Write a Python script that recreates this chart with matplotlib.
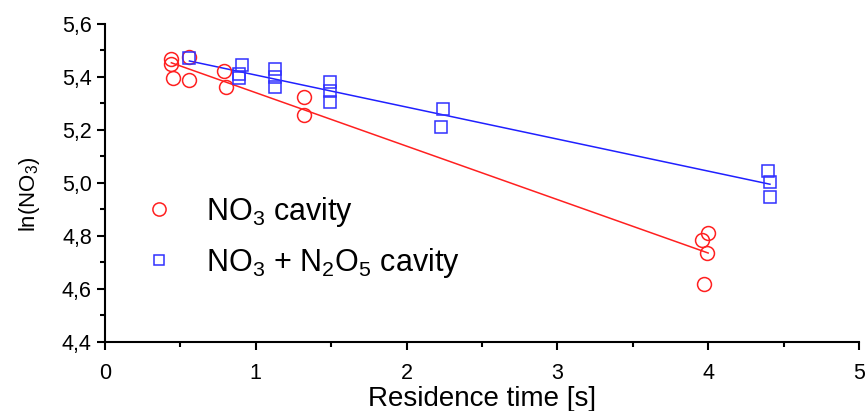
import numpy as np
import matplotlib.pyplot as plt
from matplotlib.ticker import MultipleLocator, FuncFormatter

plt.rcParams['font.family'] = ['Liberation Sans', 'DejaVu Sans']
plt.rcParams['mathtext.fontset'] = 'custom'
plt.rcParams['mathtext.rm'] = 'Liberation Sans'
plt.rcParams['mathtext.it'] = 'Liberation Sans:italic'

# NO3 cavity data
t_no3 = [0.44, 0.44, 0.45, 0.56, 0.56, 0.79, 0.80, 1.32, 1.32, 4.00, 3.96, 3.99, 3.97]
ln_no3 = [5.467, 5.448, 5.395, 5.474, 5.389, 5.423, 5.363, 5.323, 5.258, 4.810, 4.785, 4.735, 4.618]

# NO3 + N2O5 cavity data
t_sum = [0.56, 0.91, 0.89, 0.89, 1.13, 1.13, 1.13, 1.49, 1.49, 1.49, 2.24, 2.23, 4.40, 4.41, 4.41]
ln_sum = [5.473, 5.445, 5.410, 5.395, 5.430, 5.399, 5.363, 5.380, 5.345, 5.307, 5.279, 5.212, 5.046, 5.003, 4.948]

fig = plt.figure(figsize=(8.65, 4.11), dpi=100)
ax = fig.add_axes([0.1214, 0.168, 0.8716, 0.774])

# Linear fits
p1 = np.polyfit(t_no3, ln_no3, 1)
p2 = np.polyfit(t_sum, ln_sum, 1)
xf1 = np.array([min(t_no3), max(t_no3)])
xf2 = np.array([min(t_sum), max(t_sum)])
ax.plot(xf1, np.polyval(p1, xf1), color='#ff2020', lw=1.1)
ax.plot(xf2, np.polyval(p2, xf2), color='#2020ff', lw=1.1)

ax.plot(t_no3, ln_no3, 'o', mfc='none', mec='#ff2020', ms=10, mew=1.1, label=r'NO$_\mathrm{3}$ cavity')
ax.plot(t_sum, ln_sum, 's', mfc='none', mec='#3030ff', ms=8, mew=1.1,
        label=r'NO$_\mathrm{3}$ + N$_\mathrm{2}$O$_\mathrm{5}$ cavity')

ax.set_xlim(0, 5)
ax.set_ylim(4.4, 5.6)
ax.xaxis.set_major_locator(MultipleLocator(1))
ax.xaxis.set_minor_locator(MultipleLocator(0.5))
ax.yaxis.set_major_locator(MultipleLocator(0.2))
ax.yaxis.set_minor_locator(MultipleLocator(0.1))
ax.yaxis.set_major_formatter(FuncFormatter(lambda v, p: ('%.1f' % v).replace('.', ',')))
ax.xaxis.set_major_formatter(FuncFormatter(lambda v, p: '%d' % v))

for s in ['top', 'right']:
    ax.spines[s].set_visible(False)
for s in ['left', 'bottom']:
    ax.spines[s].set_linewidth(1.5)
ax.tick_params(which='major', direction='out', length=6, width=1.5, labelsize=15.5)
ax.tick_params(which='minor', direction='out', length=3.5, width=1.5)
ax.tick_params(axis='x', which='major', pad=9)

ax.set_xlabel('Residence time [s]', fontsize=20)
ax.set_ylabel(r'ln(NO$_\mathrm{3}$)', fontsize=16)
ax.xaxis.set_label_coords(0.5, -0.14)
ax.yaxis.set_label_coords(-0.083, 0.465)

leg = ax.legend(loc='upper left', bbox_to_anchor=(0.025, 0.5), borderaxespad=0, frameon=False,
                fontsize=22, markerscale=0.95, handlelength=1.5, handletextpad=0.8,
                labelspacing=0.55)

fig.savefig('out.png', dpi=100)
